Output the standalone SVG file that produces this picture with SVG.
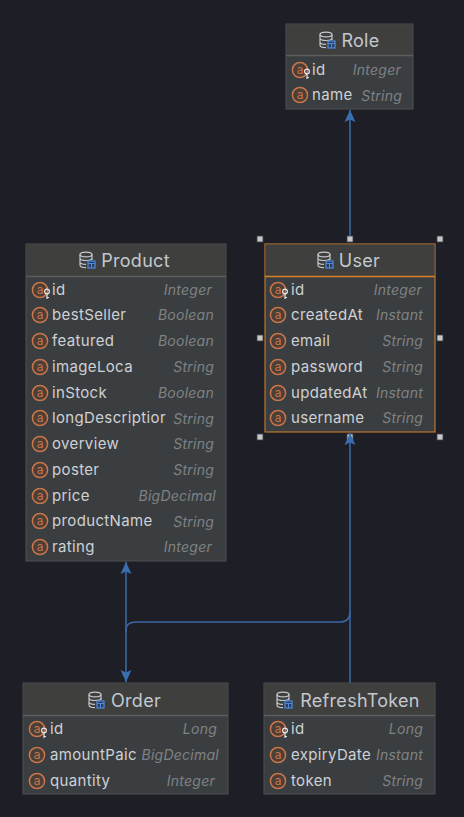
<svg xmlns="http://www.w3.org/2000/svg" width="464" height="817" viewBox="0 0 464 817">
<style>
text{font-family:Inter,"Noto Sans","Liberation Sans",sans-serif}
.box{fill:#3b3e40;stroke:#4f5153;stroke-width:1}
.head{fill:#3f3f3d}
.sep{stroke:#5b5d5e;stroke-width:1.5}
.title{font-size:18px;fill:#c3c8cf;text-anchor:middle;letter-spacing:.3px}
.f{font-size:15px;fill:#ced1d5;letter-spacing:.35px}
.t{font-size:14px;fill:#7f8284;font-style:italic;text-anchor:end;letter-spacing:.25px}
.conn{fill:none;stroke:#3a66a3;stroke-width:1.6}
.ah{fill:#3a6eb0}
.hnd{fill:#c6c8c9;stroke:#3c3f41;stroke-width:.8}
.sel{stroke:#d9812d}
.ic{fill:none;stroke:#c3c8cf;stroke-width:1.2}
</style>
<defs>
<g id="attr"><circle cx="0" cy="0" r="7.6" fill="#4b3f38" stroke="#c8754a" stroke-width="1.5"/><text x="0" y="4" font-size="12" fill="#c8754a" text-anchor="middle">a</text></g>
<g id="key"><circle cx="7" cy="1.5" r="2.4" fill="none" stroke="#e6e6e6" stroke-width="1.2"/><path d="M7 3.900V9M7 7.500H9" fill="none" stroke="#e6e6e6" stroke-width="1.2"/></g>
<g id="db"><ellipse cx="7" cy="2.5" rx="6" ry="2.4" class="ic"/><path class="ic" d="M1 2.5V13c0 1.5 2.5 2.6 6 2.6M13 2.5V8M1 6c0 1.4 2.700 2.500 6 2.500s6-1.100 6-2.500M1 10c0 1.400 2.500 2.400 6 2.400"/><rect x="9" y="9" width="7" height="7" fill="#2d3f5c" stroke="#4d8be0" stroke-width="1.200"/><path d="M9 11.500H16M12.500 11.500V16" stroke="#4d8be0" stroke-width="1"/></g>
<marker id="arrow" markerUnits="userSpaceOnUse" markerWidth="13" markerHeight="13" refX="12" refY="6" orient="auto-start-reverse"><path class="ah" d="M0 .5L12 6L0 11.500L2.500 6Z"/></marker>
</defs>
<rect width="464" height="817" fill="#1e1f26"/>
<g id="handles">
<rect class="hnd" x="257" y="236" width="6" height="6"/><rect class="hnd" x="347" y="236" width="6" height="6"/><rect class="hnd" x="437" y="236" width="6" height="6"/>
<rect class="hnd" x="257" y="335" width="6" height="6"/><rect class="hnd" x="437" y="335" width="6" height="6"/>
<rect class="hnd" x="257" y="434" width="6" height="6"/><rect class="hnd" x="347" y="434" width="6" height="6"/><rect class="hnd" x="437" y="434" width="6" height="6"/>
</g>
<g id="connectors">
<path class="conn" d="M350 236V110" marker-end="url(#arrow)"/>
<path class="conn" d="M126 562V682" marker-start="url(#arrow)" marker-end="url(#arrow)"/>
<path class="conn" d="M126 632V630Q126 622 136 622H340Q350 622 350 612"/>
<path class="conn" d="M350 683V433" marker-end="url(#arrow)"/>
</g>
<g id="node-role">
<rect class="box" x="286" y="24" width="127" height="85"/><rect class="head" x="286.500" y="24.500" width="126" height="30"/><path class="sep" d="M286 55.500H413"/>
<use href="#db" x="319" y="32"/><text class="title" x="360.500" y="47">Role</text>
<use href="#attr" x="300" y="70"/><use href="#key" x="300" y="70"/><text class="f" x="312" y="75">id</text><text class="t" x="401" y="75">Integer</text>
<use href="#attr" x="300" y="95"/><text class="f" x="312" y="100">name</text><text class="t" x="402" y="101">String</text>
</g>
<g id="node-user">
<rect class="box sel" x="265" y="244" width="170" height="188"/><rect class="head" x="265.500" y="244.500" width="169" height="31"/><path class="sep sel" d="M265 276.500H435"/>
<use href="#db" x="317" y="252"/><text class="title" x="359.500" y="267">User</text>
<use href="#attr" x="278" y="290"/><use href="#key" x="278" y="290"/><text class="f" x="291" y="295">id</text><text class="t" x="422" y="295">Integer</text>
<use href="#attr" x="278" y="315"/><text class="f" x="291" y="320">createdAt</text><text class="t" x="423" y="320">Instant</text>
<use href="#attr" x="278" y="341"/><text class="f" x="291" y="346">email</text><text class="t" x="423" y="346">String</text>
<use href="#attr" x="278" y="367"/><text class="f" x="291" y="372">password</text><text class="t" x="423" y="372">String</text>
<use href="#attr" x="278" y="393"/><text class="f" x="291" y="398">updatedAt</text><text class="t" x="423" y="398">Instant</text>
<use href="#attr" x="278" y="418"/><text class="f" x="291" y="423">username</text><text class="t" x="423" y="423">String</text>
</g>
<g id="node-product">
<rect class="box" x="26" y="244" width="200" height="317"/><rect class="head" x="26.500" y="244.500" width="199" height="31"/><path class="sep" d="M26 276.500H226"/>
<use href="#db" x="79" y="252"/><text class="title" x="135.500" y="267">Product</text>
<use href="#attr" x="40" y="290"/><use href="#key" x="40" y="290"/><text class="f" x="52" y="295">id</text><text class="t" x="212" y="295">Integer</text>
<use href="#attr" x="40" y="315"/><text class="f" x="52" y="320">bestSeller</text><text class="t" x="214" y="320">Boolean</text>
<use href="#attr" x="40" y="341"/><text class="f" x="52" y="346">featured</text><text class="t" x="214" y="346">Boolean</text>
<use href="#attr" x="40" y="367"/><text class="f" x="52" y="372">imageLoca</text><text class="t" x="214" y="372">String</text>
<use href="#attr" x="40" y="393"/><text class="f" x="52" y="398">inStock</text><text class="t" x="214" y="398">Boolean</text>
<use href="#attr" x="40" y="418"/><text class="f" x="52" y="423">longDescriptior</text><text class="t" x="214" y="424">String</text>
<use href="#attr" x="40" y="444"/><text class="f" x="52" y="449">overview</text><text class="t" x="214" y="449">String</text>
<use href="#attr" x="40" y="470"/><text class="f" x="52" y="475">poster</text><text class="t" x="214" y="475">String</text>
<use href="#attr" x="40" y="496"/><text class="f" x="52" y="501">price</text><text class="t" x="216" y="501">BigDecimal</text>
<use href="#attr" x="40" y="521"/><text class="f" x="52" y="526">productName</text><text class="t" x="214" y="527">String</text>
<use href="#attr" x="40" y="547"/><text class="f" x="52" y="552">rating</text><text class="t" x="212" y="552">Integer</text>
</g>
<g id="node-order">
<rect class="box" x="23" y="683" width="205" height="111"/><rect class="head" x="23.500" y="683.500" width="204" height="31"/><path class="sep" d="M23 715.500H228"/>
<use href="#db" x="88" y="692"/><text class="title" x="136" y="707">Order</text>
<use href="#attr" x="37" y="729"/><use href="#key" x="37" y="729"/><text class="f" x="50" y="734">id</text><text class="t" x="217" y="734">Long</text>
<use href="#attr" x="37" y="755"/><text class="f" x="50" y="760">amountPaic</text><text class="t" x="219" y="760">BigDecimal</text>
<use href="#attr" x="37" y="781"/><text class="f" x="50" y="786">quantity</text><text class="t" x="215" y="786">Integer</text>
</g>
<g id="node-refreshtoken">
<rect class="box" x="264" y="683" width="171" height="111"/><rect class="head" x="264.500" y="683.500" width="170" height="31"/><path class="sep" d="M264 715.500H435"/>
<use href="#db" x="276" y="692"/><text class="title" x="360" y="707">RefreshToken</text>
<use href="#attr" x="278" y="729"/><use href="#key" x="278" y="729"/><text class="f" x="291" y="734">id</text><text class="t" x="423" y="734">Long</text>
<use href="#attr" x="278" y="755"/><text class="f" x="291" y="760">expiryDate</text><text class="t" x="423" y="760">Instant</text>
<use href="#attr" x="278" y="781"/><text class="f" x="291" y="786">token</text><text class="t" x="423" y="786">String</text>
</g>
</svg>
